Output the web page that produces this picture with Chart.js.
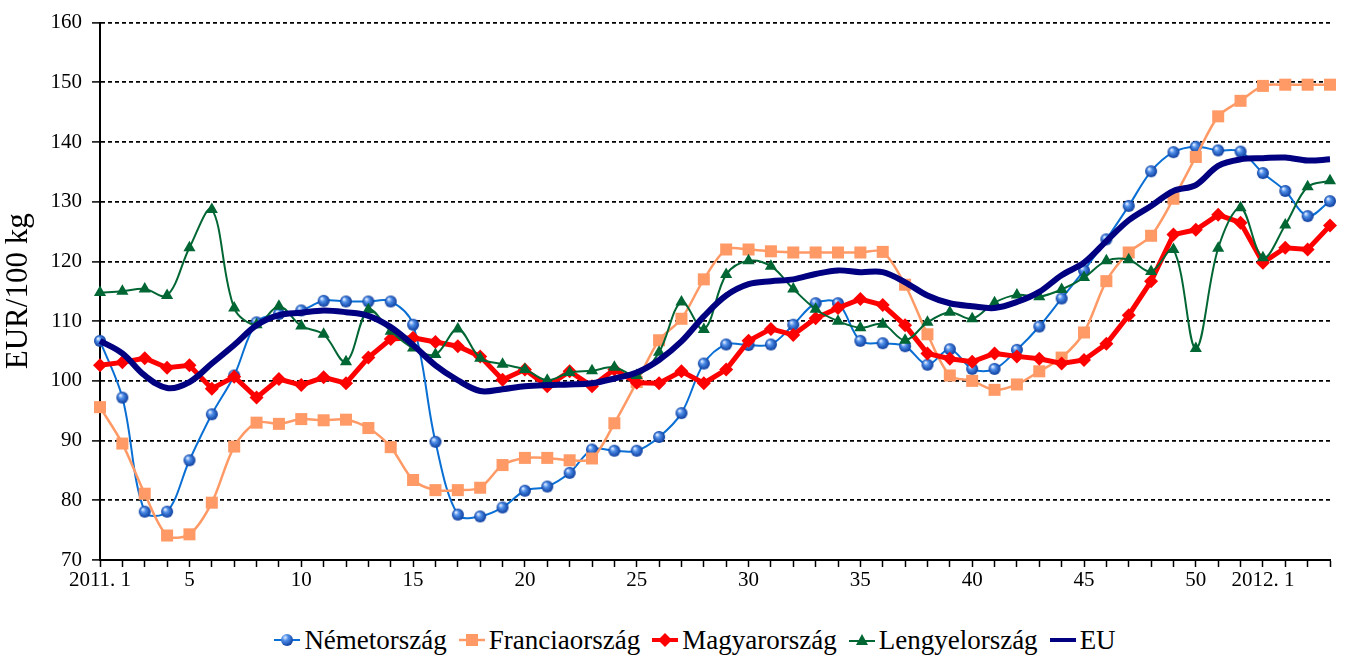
<!doctype html>
<html lang="hu">

<head>
    <meta charset="utf-8">
    <title>Sertésárak 2011-2012</title>
    <script src="https://cdn.jsdelivr.net/npm/chart.js@4.4.1/dist/chart.umd.min.js"></script>
    <style>
        body {
            margin: 0;
            background: #fff;
            font-family: "Liberation Serif", "Times New Roman", serif;
        }

        .chart-box {
            width: 1345px;
            height: 615px;
        }

        .legend {
            display: flex;
            justify-content: center;
            align-items: center;
            height: 50px;
            padding-left: 45px;
            font-size: 27px;
            color: #000;
        }

        .legend .item {
            display: flex;
            align-items: center;
            margin: 0 6px;
        }

        .legend svg {
            margin-right: 4px;
        }
    </style>
</head>

<body>
    <div class="chart-box"><canvas id="priceChart" width="1345" height="615"></canvas></div>
    <div class="legend">
        <span class="item">
            <svg width="26" height="16">
                <defs>
                    <radialGradient id="ball" cx="0.35" cy="0.3" r="0.75">
                        <stop offset="0" stop-color="#dbe9ff" />
                        <stop offset="0.35" stop-color="#4d8de8" />
                        <stop offset="1" stop-color="#0b3b9c" />
                    </radialGradient>
                </defs>
                <line x1="0" y1="8" x2="26" y2="8" stroke="#0a6fd4" stroke-width="2" />
                <circle cx="13" cy="8" r="6" fill="url(#ball)" />
            </svg>Németország
        </span>
        <span class="item">
            <svg width="26" height="16">
                <line x1="0" y1="8" x2="26" y2="8" stroke="#ff9a66" stroke-width="2.5" />
                <rect x="7" y="2" width="12" height="12" fill="#ff9a66" />
            </svg>Franciaország
        </span>
        <span class="item">
            <svg width="26" height="16">
                <line x1="0" y1="8" x2="26" y2="8" stroke="#ff0000" stroke-width="4" />
                <polygon points="13,1 20,8 13,15 6,8" fill="#ff0000" />
            </svg>Magyarország
        </span>
        <span class="item">
            <svg width="26" height="16">
                <line x1="0" y1="9" x2="26" y2="9" stroke="#006633" stroke-width="2" />
                <polygon points="13,2 19,13 7,13" fill="#006633" />
            </svg>Lengyelország
        </span>
        <span class="item">
            <svg width="26" height="16">
                <line x1="0" y1="8" x2="26" y2="8" stroke="#000080" stroke-width="4" />
            </svg>EU
        </span>
    </div>

    <script>
        // 2011. 1. héttől 2012. 4. hétig
        const weekLabels = [
            '2011. 1', '', '', '', '5', '', '', '', '',
            '10', '', '', '', '', '15', '', '', '', '',
            '20', '', '', '', '', '25', '', '', '', '',
            '30', '', '', '', '', '35', '', '', '', '',
            '40', '', '', '', '', '45', '', '', '', '',
            '50', '', '', '2012. 1', '', '', ''
        ];

        const germany = [
            106.7, 97.2, 78.1, 78.1, 86.7, 94.4, 100.9, 109.8, 111.2, 111.8,
            113.4, 113.3, 113.3, 113.3, 109.4, 89.8, 77.6, 77.3, 78.8, 81.6,
            82.3, 84.6, 88.5, 88.3, 88.3, 90.6, 94.6, 102.9, 106.1, 106.0,
            106.1, 109.4, 113.0, 113.0, 106.7, 106.3, 105.8, 102.7, 105.3, 102.0,
            102.0, 105.2, 109.1, 113.8, 118.5, 123.7, 129.3, 135.1, 138.3, 139.2,
            138.6, 138.4, 134.8, 131.8, 127.6, 130.1
        ];

        const france = [
            95.6, 89.5, 81.1, 74.1, 74.3, 79.6, 89.0, 93.0, 92.8, 93.6,
            93.4, 93.5, 92.1, 88.9, 83.4, 81.7, 81.7, 82.1, 85.9, 87.1,
            87.1, 86.7, 87.0, 92.9, 99.8, 106.8, 110.4, 117.0, 122.0, 122.0,
            121.7, 121.5, 121.5, 121.5, 121.5, 121.6, 116.1, 107.8, 100.9, 100.0,
            98.5, 99.4, 101.6, 103.9, 108.1, 116.7, 121.5, 124.3, 130.5, 137.5,
            144.3, 146.9, 149.4, 149.6, 149.6, 149.6
        ];

        const hungary = [
            102.6, 103.1, 103.8, 102.2, 102.6, 98.7, 100.7, 97.2, 100.3, 99.3,
            100.6, 99.6, 103.9, 107.0, 107.2, 106.5, 105.8, 104.1, 100.2, 101.9,
            99.1, 101.6, 99.1, 101.9, 99.7, 99.6, 101.6, 99.6, 101.9, 106.7,
            108.7, 107.7, 110.5, 112.2, 113.7, 112.7, 109.3, 104.6, 103.7, 103.2,
            104.6, 104.1, 103.7, 102.9, 103.5, 106.2, 111.0, 116.7, 124.5, 125.3,
            127.8, 126.5, 119.8, 122.3, 122.0, 126.0
        ];

        const poland = [
            114.8, 115.0, 115.4, 114.3, 122.3, 128.7, 112.2, 109.4, 112.5, 109.2,
            107.8, 103.2, 111.9, 108.3, 105.5, 104.4, 108.7, 103.8, 102.8, 101.9,
            100.1, 101.4, 101.7, 102.3, 100.9, 104.8, 113.2, 108.6, 117.8, 120.1,
            119.2, 115.4, 112.0, 110.0, 108.9, 109.5, 106.8, 109.8, 111.5, 110.4,
            113.1, 114.4, 114.1, 115.3, 117.3, 120.1, 120.3, 118.3, 122.0, 105.4,
            122.2, 129.0, 120.6, 126.1, 132.5, 133.5
        ];

        const eu = [
            106.7, 104.6, 100.9, 98.8, 99.8, 102.9, 106.0, 109.3, 111.0, 111.4,
            111.8, 111.5, 110.9, 109.0, 106.0, 102.6, 100.1, 98.3, 98.6, 99.1,
            99.3, 99.4, 99.6, 100.4, 101.4, 103.5, 106.6, 110.8, 114.3, 116.2,
            116.7, 117.0, 117.9, 118.5, 118.2, 118.2, 116.5, 114.3, 113.0, 112.5,
            112.2, 113.2, 114.9, 117.7, 119.8, 123.4, 126.9, 129.3, 131.8, 132.8,
            136.0, 137.1, 137.3, 137.4, 136.9, 137.1
        ];

        const serif = '"Liberation Serif", "Times New Roman", serif';

        // kék golyó marker a német sorozathoz
        function makeBall(r) {
            const c = document.createElement('canvas');
            c.width = c.height = r * 2 + 2;
            const g = c.getContext('2d');
            const m = r + 1;
            const grd = g.createRadialGradient(m - r * 0.35, m - r * 0.4, r * 0.1, m, m, r);
            grd.addColorStop(0, '#dbe9ff');
            grd.addColorStop(0.35, '#4d8de8');
            grd.addColorStop(1, '#0b3b9c');
            g.fillStyle = grd;
            g.beginPath();
            g.arc(m, m, r, 0, Math.PI * 2);
            g.fill();
            return c;
        }

        const ctx = document.getElementById('priceChart').getContext('2d');

        new Chart(ctx, {
            type: 'line',
            data: {
                labels: weekLabels,
                datasets: [
                    {
                        label: 'Németország',
                        data: germany,
                        borderColor: '#0a6fd4',
                        borderWidth: 2,
                        tension: 0.35,
                        pointStyle: makeBall(6),
                        pointRadius: 6,
                        order: 5,
                        clip: false
                    },
                    {
                        label: 'Franciaország',
                        data: france,
                        borderColor: '#ff9a66',
                        backgroundColor: '#ff9a66',
                        borderWidth: 2.5,
                        tension: 0.3,
                        pointStyle: 'rect',
                        pointRadius: 8.5,
                        pointBorderWidth: 0,
                        order: 4,
                        clip: false
                    },
                    {
                        label: 'Magyarország',
                        data: hungary,
                        borderColor: '#ff0000',
                        backgroundColor: '#ff0000',
                        borderWidth: 5,
                        tension: 0,
                        pointStyle: 'rectRot',
                        pointRadius: 7,
                        pointBorderWidth: 0,
                        order: 3,
                        clip: false
                    },
                    {
                        label: 'Lengyelország',
                        data: poland,
                        borderColor: '#006633',
                        backgroundColor: '#006633',
                        borderWidth: 2,
                        tension: 0.35,
                        pointStyle: 'triangle',
                        pointRadius: 7,
                        pointBorderWidth: 0,
                        order: 2,
                        clip: false
                    },
                    {
                        label: 'EU',
                        data: eu,
                        borderColor: '#000080',
                        borderWidth: 6,
                        tension: 0.35,
                        pointRadius: 0,
                        order: 1,
                        clip: false
                    }
                ]
            },
            options: {
                responsive: false,
                animation: false,
                devicePixelRatio: 1,
                layout: {
                    padding: { top: 18, right: 15, bottom: 15, left: 0 }
                },
                plugins: {
                    legend: { display: false },
                    tooltip: { enabled: false }
                },
                scales: {
                    x: {
                        offset: false,
                        grid: {
                            drawOnChartArea: false,
                            drawTicks: true,
                            tickLength: 7,
                            tickColor: '#000',
                            tickWidth: 1.5
                        },
                        border: { display: true, color: '#000', width: 2 },
                        ticks: {
                            autoSkip: false,
                            maxRotation: 0,
                            minRotation: 0,
                            padding: 1,
                            color: '#000',
                            font: { family: serif, size: 21 }
                        },
                        afterFit: (axis) => { axis.height = 40; }
                    },
                    y: {
                        min: 70,
                        max: 160,
                        ticks: {
                            stepSize: 10,
                            padding: 10,
                            color: '#000',
                            font: { family: serif, size: 21 }
                        },
                        grid: {
                            color: '#000',
                            lineWidth: 1.8,
                            drawTicks: true,
                            tickLength: 8,
                            tickColor: '#000',
                            tickWidth: 1.5
                        },
                        border: { display: true, color: '#000', width: 2, dash: [4, 3] },
                        title: {
                            display: true,
                            text: 'EUR/100 kg',
                            color: '#000',
                            font: { family: serif, size: 31 },
                            padding: { top: 0, bottom: 0 }
                        },
                        afterFit: (axis) => { axis.width = 100; }
                    }
                }
            }
        });
    </script>
</body>

</html>
